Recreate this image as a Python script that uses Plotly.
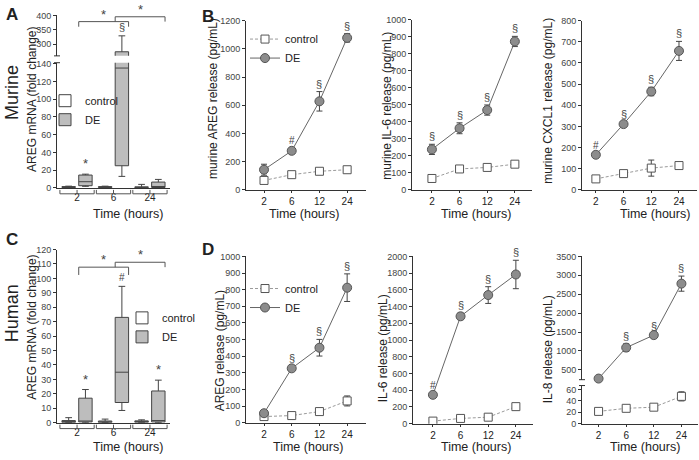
import plotly.graph_objects as go

W, H = 699, 460
def fx(p): return p / W
def fy(p): return 1 - p / H

FONT = "Liberation Sans, Arial, sans-serif"
INK = "#222"
AXC = "#333"

# ---------------- data ----------------
mrna_times = ["2", "6", "24"]

murine_ctrl_lf = [0.2, 0.2, 0.1]
murine_ctrl_q1 = [0.5, 0.5, 0.3]
murine_ctrl_med = [1.0, 1.0, 0.8]
murine_ctrl_q3 = [1.5, 1.5, 1.2]
murine_ctrl_uf = [2.0, 2.0, 4.0]
murine_de_lf = [1.8, 13, 0.2]
murine_de_q1 = [2.5, 25, 0.5]
murine_de_med = [7, 135, 1.5]
murine_de_q3 = [14.5, 273, 6.6]
murine_de_uf = [15.5, 329, 9.6]
murine_de_sig = ["*", "§", ""]

human_ctrl_lf = [0.1, 0.1, 0.1]
human_ctrl_q1 = [0.2, 0.2, 0.3]
human_ctrl_med = [0.8, 0.7, 0.8]
human_ctrl_q3 = [1.5, 1.2, 1.3]
human_ctrl_uf = [3.5, 2.5, 2.0]
human_de_lf = [0.2, 8.5, 0.2]
human_de_q1 = [0.5, 14, 0.5]
human_de_med = [1.0, 35, 1.5]
human_de_q3 = [17, 73, 22]
human_de_uf = [23, 94.5, 29.5]
human_de_sig = ["*", "#", "*"]

release_times = ["2", "6", "12", "24"]

m_areg_ctrl = [67, 108, 132, 143]
m_areg_ctrl_err = [23, 15, 20, 20]
m_areg_de = [143, 277, 628, 1078]
m_areg_de_err = [39, 20, 69, 30]
m_areg_sig = ["", "#", "§", "§"]

m_il6_ctrl = [67, 123, 132, 151]
m_il6_ctrl_err = [5, 15, 12, 12]
m_il6_de = [238, 362, 469, 872]
m_il6_de_err = [30, 32, 30, 30]
m_il6_sig = ["§", "§", "§", "§"]

m_cxcl1_ctrl = [52, 77, 103, 115]
m_cxcl1_ctrl_err = [5, 8, 38, 10]
m_cxcl1_de = [166, 311, 465, 657]
m_cxcl1_de_err = [10, 8, 20, 45]
m_cxcl1_sig = ["#", "§", "§", "§"]

h_areg_ctrl = [37, 43, 67, 131]
h_areg_ctrl_err = [5, 6, 8, 30]
h_areg_de = [57, 327, 451, 812]
h_areg_de_err = [8, 12, 50, 83]
h_areg_sig = ["", "§", "§", "§"]

h_il6_ctrl = [31, 63, 78, 204]
h_il6_ctrl_err = [5, 8, 10, 20]
h_il6_de = [345, 1284, 1538, 1784]
h_il6_de_err = [25, 40, 100, 170]
h_il6_sig = ["#", "§", "§", "§"]

h_il8_ctrl = [21.6, 27, 29, 48]
h_il8_ctrl_err = [2, 4, 3, 8]
h_il8_de = [270, 1089, 1419, 2780]
h_il8_de_err = [30, 100, 30, 200]
h_il8_sig = ["", "§", "§", "§"]

# ---------------- figure ----------------
fig = go.Figure()

BOXGAP, BOXGROUPGAP = 0.08, 0.2
DE_OFF = (1 - BOXGAP) / 4
HALFW = (1 - BOXGAP) / 2 * (1 - BOXGROUPGAP) / 2

def add_boxes(xa, yas, lf_c, q1_c, med_c, q3_c, uf_c, lf_d, q1_d, med_d, q3_d, uf_d, legend, grp):
    for i, ya in enumerate(yas):
        fig.add_trace(go.Box(x=mrna_times, lowerfence=lf_c, q1=q1_c, median=med_c, q3=q3_c,
                             upperfence=uf_c, name="control", fillcolor="white",
                             line=dict(color="#444", width=1), whiskerwidth=0.5,
                             alignmentgroup=grp, offsetgroup="ctrl",
                             boxpoints=False, xaxis=xa, yaxis=ya, legend=legend,
                             showlegend=(i == 0), hoverinfo="skip"))
        fig.add_trace(go.Box(x=mrna_times, lowerfence=lf_d, q1=q1_d, median=med_d, q3=q3_d,
                             upperfence=uf_d, name="DE", fillcolor="#bdbdbd",
                             line=dict(color="#444", width=1), whiskerwidth=0.5,
                             alignmentgroup=grp, offsetgroup="de",
                             boxpoints=False, xaxis=xa, yaxis=ya, legend=legend,
                             showlegend=(i == 0), hoverinfo="skip"))

def add_lines(xa, ya_c, ya_d, ctrl, ctrl_err, de, de_err, sig, legend=None, de_clip=True):
    show = legend is not None
    fig.add_trace(go.Scatter(
        x=release_times, y=ctrl, mode="lines+markers", name="control",
        error_y=dict(type="data", array=ctrl_err, color="#444", thickness=1, width=3),
        line=dict(color="#9a9a9a", width=1, dash="3px,2px"),
        marker=dict(symbol="square", size=8, color="white", line=dict(color="#555", width=1)),
        xaxis=xa, yaxis=ya_c, showlegend=show, legend=legend or "legend", hoverinfo="skip"))
    fig.add_trace(go.Scatter(
        x=release_times, y=de, mode="lines+markers", name="DE",
        error_y=dict(type="data", array=de_err, color="#444", thickness=1, width=3),
        line=dict(color="#666", width=1),
        marker=dict(symbol="circle", size=9, color="#8c8c8c", line=dict(color="#555", width=1)),
        cliponaxis=de_clip,
        xaxis=xa, yaxis=ya_d, showlegend=show, legend=legend or "legend", hoverinfo="skip"))
    for i, (v, e, s) in enumerate(zip(de, de_err, sig)):
        if s:
            fig.add_annotation(x=i, y=v + e, xref=xa, yref=ya_d, text=s, showarrow=False,
                               yanchor="bottom", yshift=0,
                               font=dict(size=11 if s == "§" else 10, color="#444", family=FONT))

# Panel A (murine mRNA, broken axis)
add_boxes("x", ["y", "y2"], murine_ctrl_lf, murine_ctrl_q1, murine_ctrl_med, murine_ctrl_q3,
          murine_ctrl_uf, murine_de_lf, murine_de_q1, murine_de_med, murine_de_q3, murine_de_uf,
          "legend", "A")
# Panel C (human mRNA)
add_boxes("x2", ["y3"], human_ctrl_lf, human_ctrl_q1, human_ctrl_med, human_ctrl_q3,
          human_ctrl_uf, human_de_lf, human_de_q1, human_de_med, human_de_q3, human_de_uf,
          "legend2", "C")

# Panel B
add_lines("x3", "y4", "y4", m_areg_ctrl, m_areg_ctrl_err, m_areg_de, m_areg_de_err, m_areg_sig, "legend3")
add_lines("x4", "y5", "y5", m_il6_ctrl, m_il6_ctrl_err, m_il6_de, m_il6_de_err, m_il6_sig)
add_lines("x5", "y6", "y6", m_cxcl1_ctrl, m_cxcl1_ctrl_err, m_cxcl1_de, m_cxcl1_de_err, m_cxcl1_sig)
# Panel D
add_lines("x6", "y7", "y7", h_areg_ctrl, h_areg_ctrl_err, h_areg_de, h_areg_de_err, h_areg_sig, "legend4")
add_lines("x7", "y8", "y8", h_il6_ctrl, h_il6_ctrl_err, h_il6_de, h_il6_de_err, h_il6_sig)
add_lines("x8", "y10", "y9", h_il8_ctrl, h_il8_ctrl_err, h_il8_de, h_il8_de_err, h_il8_sig, de_clip=False)

# ---------------- axes ----------------
AXIS = dict(showline=True, linecolor=AXC, linewidth=1, ticks="outside", ticklen=3,
            tickcolor=AXC, tickwidth=1, showgrid=False, zeroline=False,
            tickfont=dict(size=9, color="#444", family=FONT))

def yax(bot, top, rng, anchor, dtick=None, tickvals=None):
    d = dict(AXIS, domain=[fy(bot), fy(top)], range=rng, anchor=anchor)
    if tickvals is not None:
        d["tickvals"] = tickvals
    else:
        d.update(tick0=0, dtick=dtick)
    return d

def xcat(left, right, rng, cats, anchor):
    return dict(AXIS, type="category", categoryorder="array", categoryarray=cats,
                domain=[fx(left), fx(right)], range=rng, anchor=anchor, ticklen=2,
                tickfont=dict(size=10, color=INK, family=FONT))

boxx = dict(ticks="", ticklabelstandoff=0)
fig.update_layout(
    xaxis=dict(xcat(57, 170, [-0.55, 2.55], mrna_times, "y"), **boxx),
    yaxis=yax(187, 59, [0, 141], "x", dtick=20),
    yaxis2=yax(52, 10, [258.6, 403], "x", tickvals=[300, 350, 400]),
    xaxis2=dict(xcat(57, 170, [-0.55, 2.55], mrna_times, "y3"), **boxx),
    yaxis3=yax(427, 250, [0, 120], "x2", dtick=10),
    xaxis3=xcat(246, 366, [-0.65, 3.68], release_times, "y4"),
    yaxis4=yax(189, 16, [0, 1200], "x3", dtick=200),
    xaxis4=xcat(412, 532, [-0.72, 3.62], release_times, "y5"),
    yaxis5=yax(189, 15, [0, 1000], "x4", dtick=100),
    xaxis5=xcat(582, 697, [-0.5, 3.65], release_times, "y6"),
    yaxis6=yax(189, 16, [0, 800], "x5", dtick=100),
    xaxis6=xcat(246, 366, [-0.65, 3.68], release_times, "y7"),
    yaxis7=yax(427, 257, [0, 1000], "x6", dtick=100),
    xaxis7=xcat(413, 533, [-0.72, 3.62], release_times, "y8"),
    yaxis8=yax(428, 257, [0, 2000], "x7", dtick=200),
    xaxis8=xcat(582, 698, [-0.6, 3.6], release_times, "y10"),
    yaxis9=yax(383, 257, [241, 3500], "x8", tickvals=[500, 1000, 1500, 2000, 2500, 3000, 3500]),
    yaxis10=yax(428, 389, [0, 67], "x8", dtick=20),
)

# ---------------- legends ----------------
LEG = dict(xanchor="left", yanchor="top", bgcolor="rgba(0,0,0,0)", itemwidth=30,
           font=dict(size=11, color=INK, family=FONT), tracegroupgap=0)
fig.update_layout(
    boxmode="group", boxgap=BOXGAP, boxgroupgap=BOXGROUPGAP,
    legend=dict(LEG, x=fx(45), y=fy(83)),
    legend2=dict(LEG, x=fx(122), y=fy(305)),
    legend3=dict(LEG, x=fx(245), y=fy(20)),
    legend4=dict(LEG, x=fx(245), y=fy(275)),
)

# ---------------- shapes: brackets & breaks ----------------
LN = dict(color="#555", width=1)
def bracket_top(xref, yref, x0, x1, yl, yend0, yend1):
    fig.add_shape(type="path", xref=xref, yref=yref, line=LN,
                  path=f"M{x0},{yend0} L{x0},{yl} L{x1},{yl} L{x1},{yend1}")
    fig.add_annotation(x=(x0 + x1) / 2, y=yl, xref=xref, yref=yref, text="*", showarrow=False,
                       yanchor="bottom", yshift=-2, font=dict(size=13, color="#444", family=FONT))

# A brackets
bracket_top("x", "y2", 0 + DE_OFF - HALFW, 1 + DE_OFF + HALFW, 379, 361, 361)
bracket_top("x", "y2", 1 + DE_OFF - HALFW, 2 + DE_OFF + HALFW, 396, 379, 379)
# C brackets
bracket_top("x2", "y3", 0 + DE_OFF - HALFW, 1 + DE_OFF + HALFW, 107.8, 102.4, 102.4)
bracket_top("x2", "y3", 1 + DE_OFF - HALFW, 2 + DE_OFF + HALFW, 111.2, 107.8, 107.8)

# grouping brackets under the box-plot x axes
for xref, ytop, ybot in [("x", 189, 193), ("x2", 429, 433)]:
    for i in range(len(mrna_times)):
        a, b = i - 0.47, i + 0.47
        fig.add_shape(type="path", xref=xref, yref="paper", line=LN,
                      path=f"M{a},{fy(ytop)} L{a},{fy(ybot)} L{b},{fy(ybot)} L{b},{fy(ytop)}")
        fig.add_shape(type="line", xref=xref, yref="paper", line=LN,
                      x0=i, x1=i, y0=fy(ybot), y1=fy(ytop))

# significance marks on boxes
for i, s in enumerate(murine_de_sig):
    if s:
        ya = "y2" if murine_de_uf[i] > 141 else "y"
        fig.add_annotation(x=i + DE_OFF, y=murine_de_uf[i], xref="x", yref=ya, text=s,
                           showarrow=False, yanchor="bottom", yshift=1,
                           font=dict(size=13 if s == "*" else 11, color="#444", family=FONT))
for i, s in enumerate(human_de_sig):
    if s:
        fig.add_annotation(x=i + DE_OFF, y=human_de_uf[i], xref="x2", yref="y3", text=s,
                           showarrow=False, yanchor="bottom", yshift=1,
                           font=dict(size=13 if s == "*" else 10, color="#444", family=FONT))

# axis break caps
for axx, yref, yv in [(57, "y2 domain", 0), (57, "y domain", 1), (582, "y9 domain", 0), (582, "y10 domain", 1)]:
    fig.add_shape(type="line", xref="paper", yref=yref, x0=fx(axx - 3), x1=fx(axx + 3),
                  y0=yv, y1=yv, line=dict(color=AXC, width=1))

# ---------------- text ----------------
def txt(x, y, s, size, angle=0, bold=False):
    fig.add_annotation(x=fx(x), y=fy(y), xref="paper", yref="paper",
                       text=f"<b>{s}</b>" if bold else s, showarrow=False, textangle=angle,
                       xanchor="center", yanchor="middle",
                       font=dict(size=size, color=INK, family=FONT))

txt(12, 10, "A", 17, bold=True)
txt(208, 12, "B", 17, bold=True)
txt(12, 240, "C", 17, bold=True)
txt(208, 250, "D", 17, bold=True)
txt(12, 90, "Murine", 18, angle=-90)
txt(12, 315, "Human", 18, angle=-90)

txt(32, 97, "AREG mRNA (fold change)", 12, angle=-90)
txt(32, 330, "AREG mRNA (fold change)", 12, angle=-90)
txt(213, 96, "murine AREG release (pg/mL)", 12, angle=-90)
txt(387, 103, "murine IL-6 release (pg/mL)", 12, angle=-90)
txt(548, 98, "murine CXCL1 release (pg/mL)", 12, angle=-90)
txt(220, 354, "AREG release (pg/mL)", 12, angle=-90)
txt(383, 351, "IL-6 release (pg/mL)", 12, angle=-90)
txt(548, 352, "IL-8 release (pg/mL)", 12, angle=-90)

for x, y in [(128, 214), (304, 214), (476, 214), (655, 214),
             (128, 452), (308, 452), (476, 452), (645, 452)]:
    txt(x, y, "Time (hours)", 12.5)

fig.update_layout(width=W, height=H, margin=dict(l=0, r=0, t=0, b=0),
                  paper_bgcolor="white", plot_bgcolor="white",
                  font=dict(family=FONT, color=INK))

fig.write_html("out.html", config={"displayModeBar": False},
               post_script="document.body.style.margin='0';")
